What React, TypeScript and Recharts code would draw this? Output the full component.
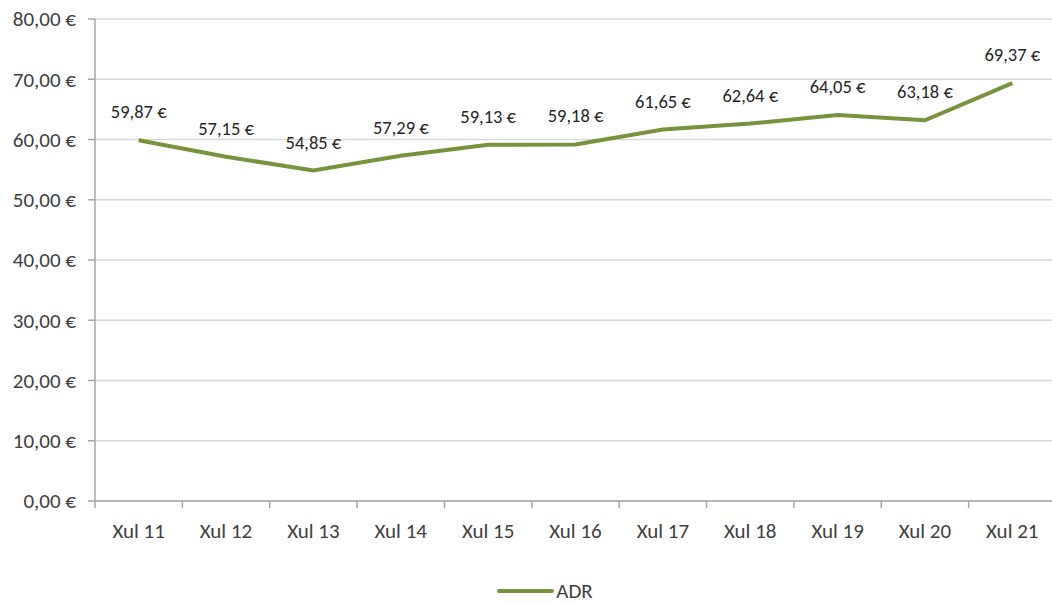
import { LineChart, Line, XAxis, YAxis, CartesianGrid, Legend, LabelList } from "recharts";

const months = ["Xul 11", "Xul 12", "Xul 13", "Xul 14", "Xul 15", "Xul 16", "Xul 17", "Xul 18", "Xul 19", "Xul 20", "Xul 21"];
const adr = [59.87, 57.15, 54.85, 57.29, 59.13, 59.18, 61.65, 62.64, 64.05, 63.18, 69.37];
const yTicks = [0, 10, 20, 30, 40, 50, 60, 70, 80];

const data = months.map((m, i) => ({ idx: i, month: m, adr: adr[i] }));
const labelTicks = months.map((_, i) => i);
const boundaryTicks = [...labelTicks.map((i) => i - 0.5), months.length - 0.5];

const euro = (v: number) => v.toFixed(2).replace(".", ",") + " €";
const FONT = "Carlito, 'Liberation Sans', Arial, sans-serif";
const GREEN = "#77933c";

function LegendContent() {
    return (
        <div style={{ display: "flex", justifyContent: "center", alignItems: "center", height: 24, lineHeight: "24px", paddingLeft: 34, fontFamily: FONT, fontSize: 21, color: "#404040" }}>
            <svg width={57} height={10} style={{ marginRight: 2 }}>
                <line x1={2} y1={5} x2={55} y2={5} stroke={GREEN} strokeWidth={4} strokeLinecap="round" />
            </svg>
            <span>ADR</span>
        </div>
    );
}

export default function App() {
    return (
        <div style={{ position: "absolute", left: 0, top: 0, width: 1052, height: 603, overflow: "hidden", background: "#fff" }}>
            <LineChart width={1060} height={603} data={data} margin={{ top: 19, right: 4, left: 0, bottom: 0 }}>
                <CartesianGrid horizontal vertical={false} stroke="#d9d9d9" strokeWidth={1.3} />
                <XAxis
                    xAxisId="b"
                    type="number"
                    dataKey="idx"
                    domain={[-0.5, months.length - 0.5]}
                    ticks={boundaryTicks}
                    tickFormatter={() => ""}
                    tickSize={7}
                    height={7}
                    stroke="#a6a6a6"
                    strokeWidth={1.5}
                    interval={0}
                />
                <XAxis
                    xAxisId="lbl"
                    type="number"
                    dataKey="idx"
                    domain={[-0.5, months.length - 0.5]}
                    ticks={labelTicks}
                    tickFormatter={(i: number) => months[i]}
                    tickLine={false}
                    axisLine={false}
                    height={71}
                    tickMargin={9}
                    interval={0}
                    tick={{ fontFamily: FONT, fontSize: 21, fill: "#404040" }}
                />
                <YAxis
                    domain={[0, 80]}
                    ticks={yTicks}
                    tickFormatter={euro}
                    width={95}
                    tickSize={7}
                    tickMargin={12}
                    stroke="#a6a6a6"
                    strokeWidth={1.5}
                    interval={0}
                    tick={{ fontFamily: FONT, fontSize: 21, fill: "#404040" }}
                />
                <Legend verticalAlign="bottom" content={<LegendContent />} />
                <Line
                    xAxisId="b"
                    type="linear"
                    dataKey="adr"
                    name="ADR"
                    stroke={GREEN}
                    strokeWidth={4}
                    dot={false}
                    isAnimationActive={false}
                >
                    <LabelList
                        dataKey="adr"
                        position="top"
                        offset={22}
                        formatter={(v: number) => euro(v)}
                        style={{ fontFamily: FONT, fontSize: 18.5, fill: "#262626" }}
                    />
                </Line>
            </LineChart>
        </div>
    );
}
